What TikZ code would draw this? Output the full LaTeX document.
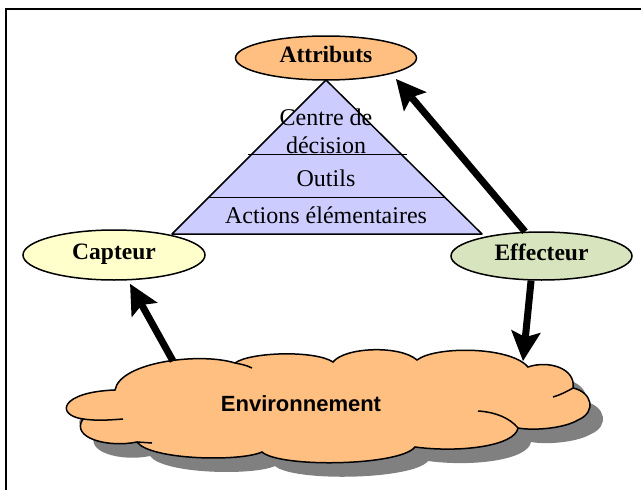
\documentclass[tikz,border=0pt]{standalone}
\usepackage{fontspec}
\setmainfont{Liberation Serif}
\newfontfamily\envfont{Liberation Sans}
\usetikzlibrary{positioning, arrows.meta, shapes.geometric}

\definecolor{attrorange}{HTML}{FFBF80}
\definecolor{pyrblue}{HTML}{CCCCFF}
\definecolor{captyellow}{HTML}{FFFFCC}
\definecolor{effgreen}{HTML}{D7E4BD}
\definecolor{shadowgray}{HTML}{808080}

% outline of the Environnement cloud (pixel-like units)
\newcommand{\envcloud}{(115,390) .. controls (120,362) and (200,352) .. (235,363)
  .. controls (250,352) and (315,350) .. (333,362)
  .. controls (345,347) and (400,345) .. (417,360)
  .. controls (435,346) and (510,346) .. (528,367)
  .. controls (548,360) and (576,368) .. (573,388)
  .. controls (592,392) and (597,412) .. (578,420)
  .. controls (565,428) and (535,431) .. (518,428)
  .. controls (515,446) and (460,453) .. (415,447)
  .. controls (400,466) and (280,468) .. (262,452)
  .. controls (240,462) and (150,460) .. (137,442)
  .. controls (108,448) and (70,438) .. (83,419)
  .. controls (55,415) and (60,392) .. (115,390) -- cycle}

\begin{document}
\begin{tikzpicture}[x=1pt, y=-1pt,
  bubble/.style={ellipse, draw, line width=1.5pt, inner sep=0pt, text depth=7pt,
    font=\fontsize{23.5}{28}\selectfont\bfseries},
  layertext/.style={anchor=base, inner sep=0pt, font=\fontsize{24}{28}\selectfont},
  bigarrow/.style={line width=7pt,
    -{Stealth[length=30pt, width=30pt, inset=6pt, line width=0pt]}}]

\useasboundingbox (0,0) rectangle (641,490);

% --- frame ---
\draw[line width=2pt] (6,490) -- (6,9) -- (641,9);

% --- pyramid ---
\draw[line width=1.5pt, fill=pyrblue, line join=round] (326,80) -- (482,234) -- (172,234) -- cycle;
\draw[line width=1.5pt] (248,154.5) -- (407,154.5);
\draw[line width=1.5pt] (209,197.5) -- (446,197.5);
\node[layertext] (centre) at (326,125) {Centre de};
\node[layertext] (decision) at (326,153) {décision};
\node[layertext] (outils) at (326,186) {Outils};
\node[layertext] (actions) at (326,223) {Actions élémentaires};

% --- ellipses ---
\node[bubble, fill=attrorange, minimum width=181pt, minimum height=44pt] (attributs) at (326,58) {Attributs};
\node[bubble, fill=captyellow, minimum width=182pt, minimum height=50pt] (capteur) at (114,255) {Capteur};
\node[bubble, fill=effgreen, minimum width=181pt, minimum height=48pt] (effecteur) at (541.5,256) {Effecteur};

% --- cloud with its shadow ---
\fill[shadowgray, shift={(13,14)}] \envcloud;
\draw[line width=1.5pt, fill=attrorange] \envcloud;
% inner puff lines
\draw[line width=1.5pt] (83,419) .. controls (97,421) and (110,420) .. (123,419);
\draw[line width=1.5pt] (137,442) -- (152,443);
\draw[line width=1.5pt] (235,363) .. controls (240,364) and (246,365) .. (252,368);
\draw[line width=1.5pt] (518,428) .. controls (510,418) and (495,412) .. (478,411);
\draw[line width=1.5pt] (573,388) .. controls (566,392) and (560,395) .. (553,397);
\node[font=\envfont\fontsize{22}{26}\selectfont\bfseries, anchor=base] (environnement) at (301,411) {Environnement};

% --- arrows ---
\coordinate (envleft) at (173,361);
\coordinate (envright) at (523,361);
\coordinate (attrtip) at (396,79);
\draw[bigarrow, shorten >=4pt] (envleft) -- (capteur);
\draw[bigarrow] (effecteur.-113) -- (envright);
\draw[bigarrow] (effecteur.124) -- (attrtip);

\end{tikzpicture}
\end{document}
